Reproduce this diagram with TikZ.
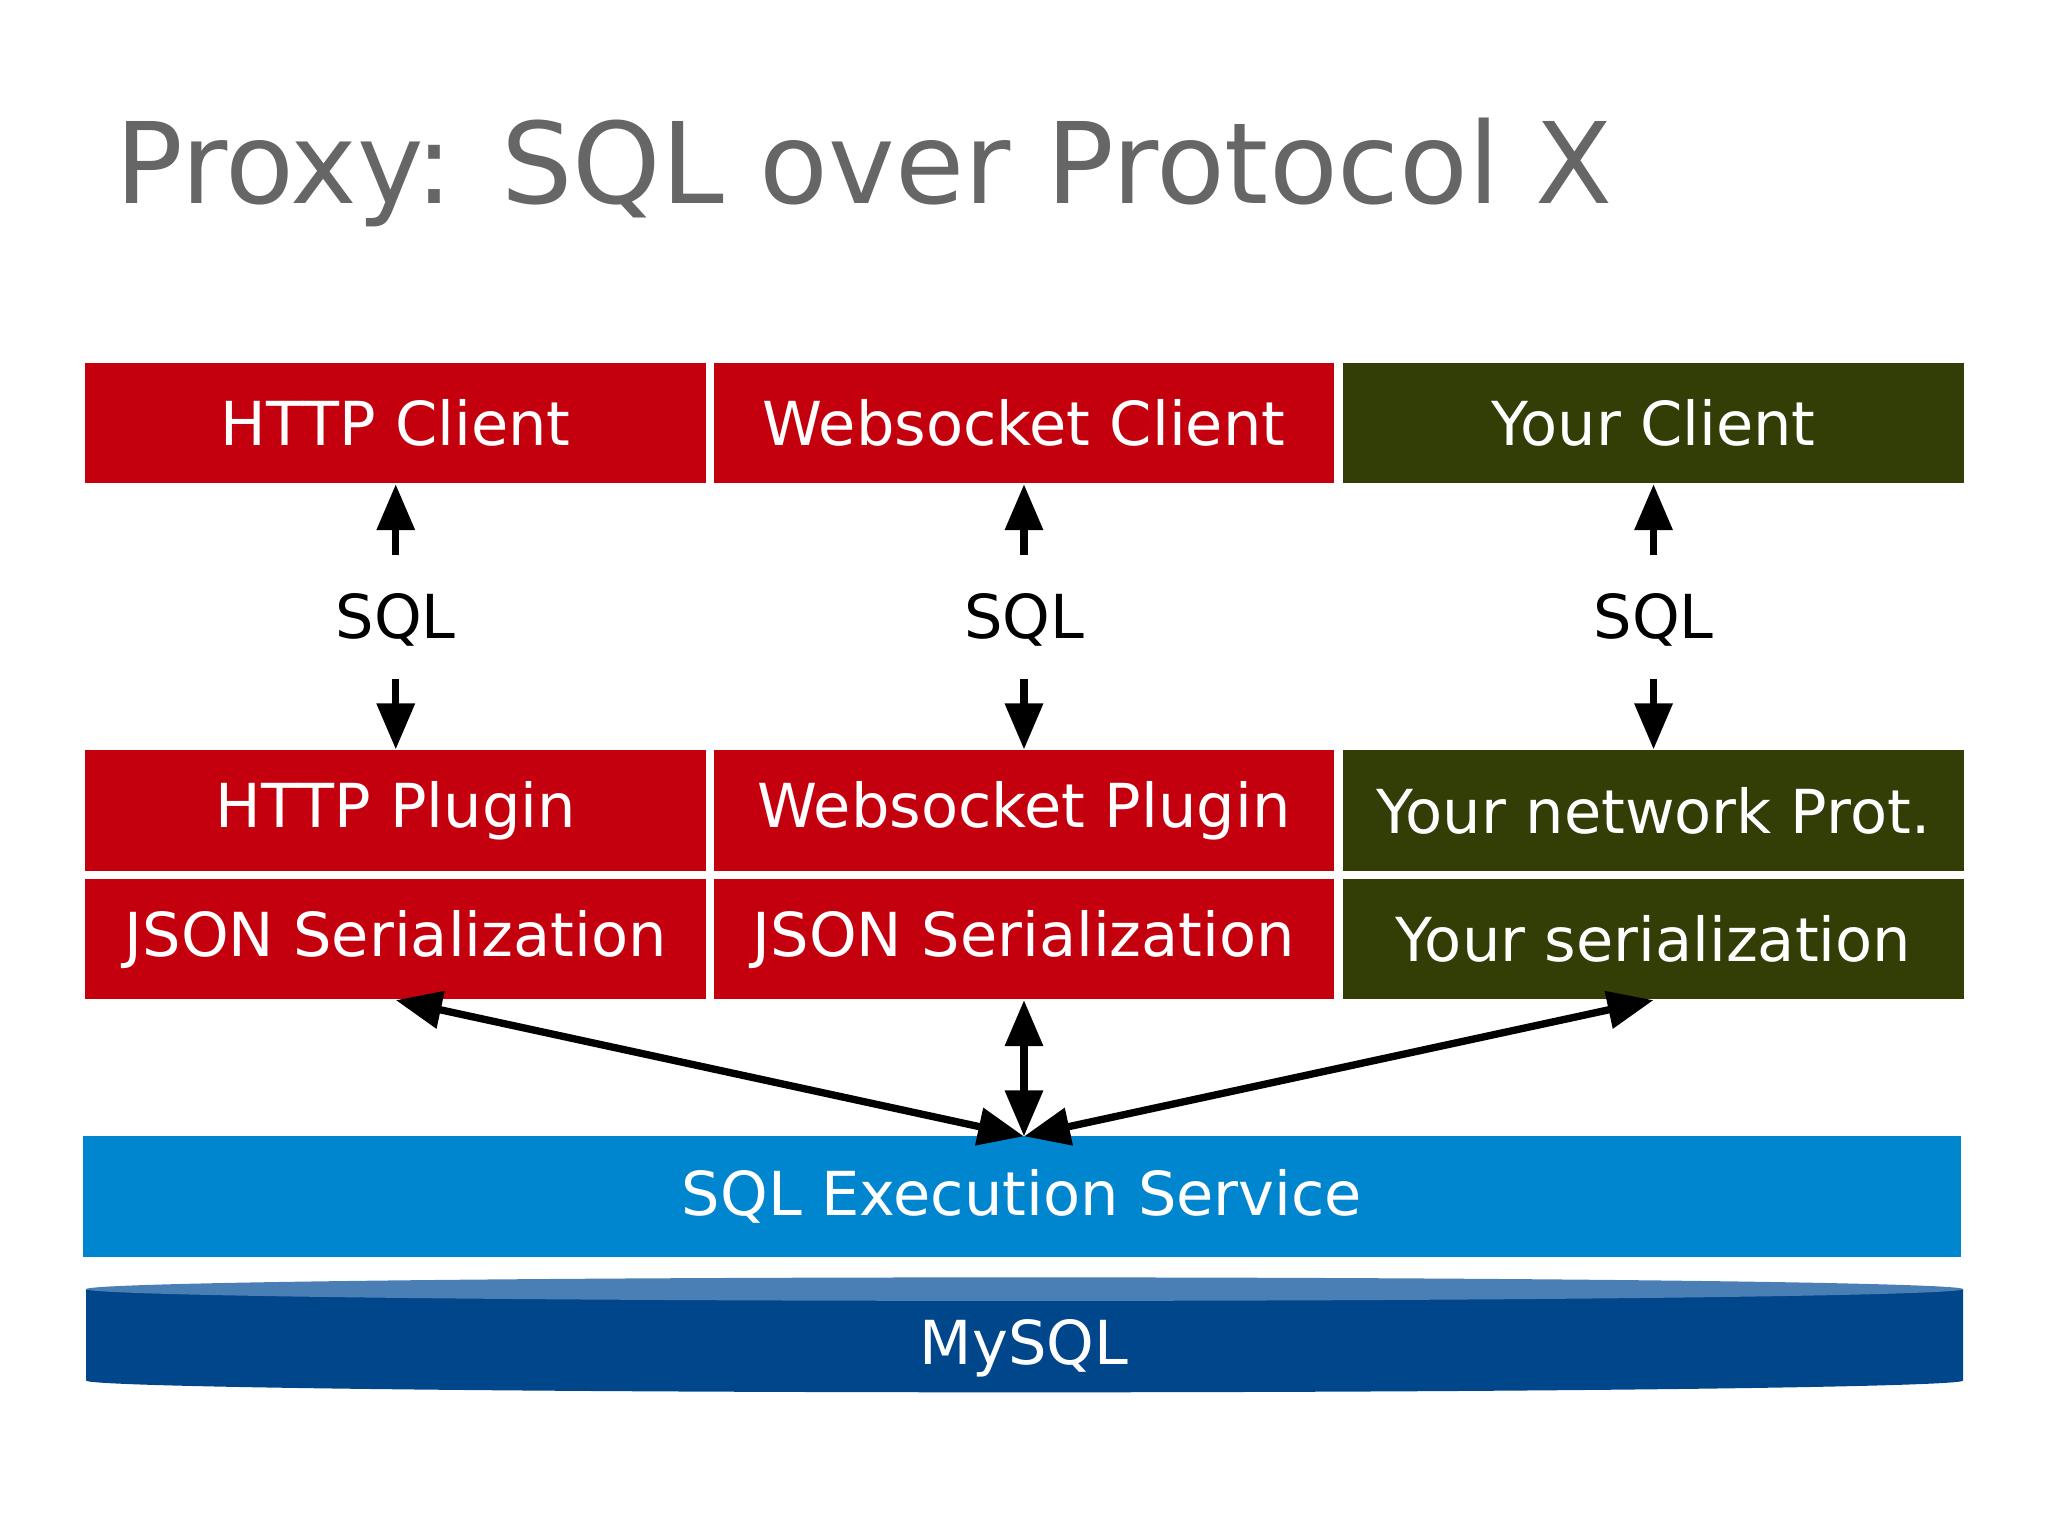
\documentclass[tikz,border=0pt]{standalone}
\usepackage{fontspec}
\setmainfont{DejaVu Sans}
\usetikzlibrary{arrows.meta}
\definecolor{cred}{HTML}{C4000F}
\definecolor{colive}{HTML}{333D06}
\definecolor{cblue}{HTML}{0085CF}
\definecolor{cdb}{HTML}{00468A}
\definecolor{cdbtop}{HTML}{4A7FB5}
\definecolor{ctitle}{HTML}{666666}
\begin{document}
\begin{tikzpicture}[x=0.01cm,y=-0.01cm,
  box/.style={draw=none,minimum width=4.75cm,minimum height=0.92cm,inner sep=0pt,text=white,font=\fontsize{13.2}{16}\selectfont},
  lbl/.style={font=\fontsize{13.2}{16}\selectfont},
  arr/.style={-{Triangle[length=10pt,width=8pt]},line width=1.6pt},
  darr/.style={{Triangle[length=10pt,width=8pt]}-{Triangle[length=10pt,width=8pt]},line width=1.6pt}]
\useasboundingbox (0,0) rectangle (1568,1176);
\node[anchor=west,text=ctitle,font=\fontsize{24.5}{28}\selectfont] (title) at (76,132) {Proxy: SQL over Protocol X};
\foreach \n/\x/\c/\a/\b/\d in {h/303/cred/HTTP Client/HTTP Plugin/JSON Serialization,
  w/784/cred/Websocket Client/Websocket Plugin/JSON Serialization,
  y/1266/colive/Your Client/Your network Prot./Your serialization}{
  \node[box,fill=\c] (\n1) at (\x,324) {\a};
  \node[box,fill=\c] (\n2) at (\x,620.5) {\b};
  \node[box,fill=\c] (\n3) at (\x,719) {\d};
  \node[lbl] (\n s) at (\x,475) {SQL};
  \draw[arr] (\x,425) -- (\n1.south);
  \draw[arr] (\x,520) -- (\n2.north);
}
\node[box,fill=cblue,minimum width=14.37cm] (sql) at (782.5,916) {SQL Execution Service};
\fill[cdb] (66,987) -- (66,1057) arc[start angle=180,end angle=0,x radius=718.5,y radius=9] -- (1503,987) -- cycle;
\fill[cdbtop] (784.5,987) ellipse[x radius=718.5,y radius=9];
\node[text=white,font=\fontsize{13.2}{16}\selectfont] (db) at (784,1032) {MySQL};
\coordinate (t) at (784,870);
\draw[darr] (h3.south) -- (t);
\draw[darr] (w3.south) -- (t);
\draw[darr] (y3.south) -- (t);
\end{tikzpicture}
\end{document}
